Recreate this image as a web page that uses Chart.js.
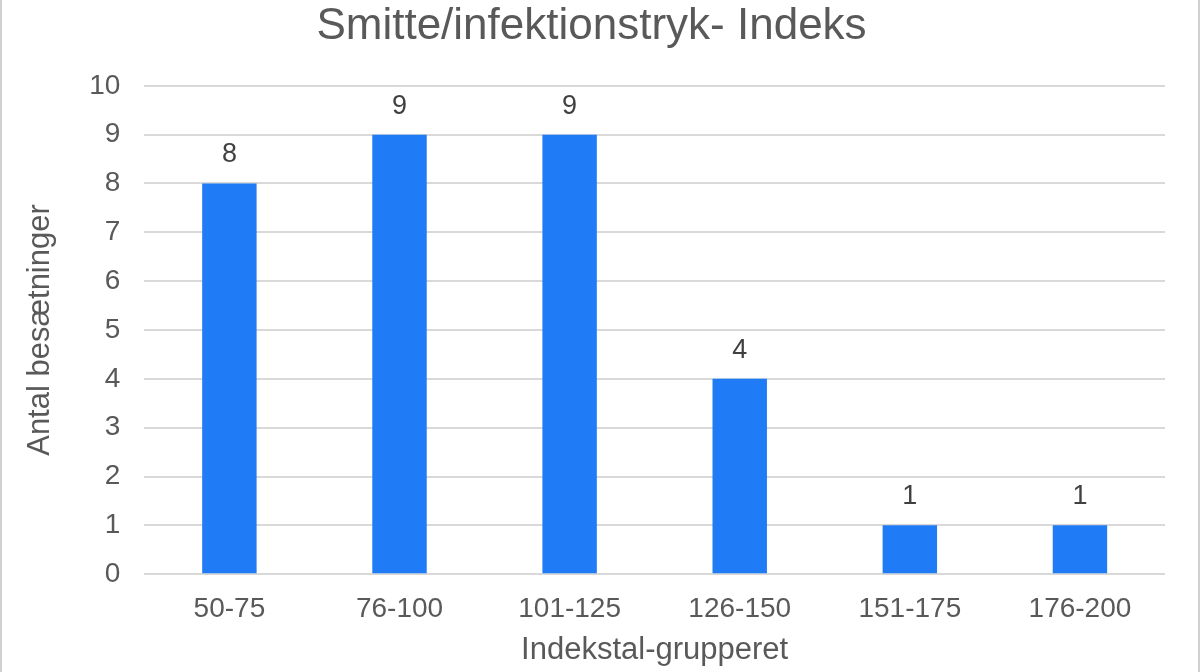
<!DOCTYPE html>
<html>
<head>
<meta charset="utf-8">
<script src="https://cdn.jsdelivr.net/npm/chart.js@4"></script>
<style>
html,body{margin:0;padding:0;background:#fff;}
#wrap{position:relative;width:1200px;height:672px;box-sizing:border-box;border-left:2px solid #d0d0d0;border-right:2px solid #d0d0d0;}
canvas{display:block;}
</style>
</head>
<body>
<div id="wrap"><canvas id="c"></canvas></div>
<script>
const categories = ['50-75','76-100','101-125','126-150','151-175','176-200'];
const values = [8, 9, 9, 4, 1, 1];
const yTicks = [0,1,2,3,4,5,6,7,8,9,10];

const FONT = "'Liberation Sans', Arial, sans-serif";

const labelPlugin = {
  id: 'barLabels',
  afterDatasetsDraw(chart) {
    const ctx = chart.ctx;
    const meta = chart.getDatasetMeta(0);
    ctx.save();
    ctx.font = '27px ' + FONT;
    ctx.fillStyle = '#404040';
    ctx.textAlign = 'center';
    ctx.textBaseline = 'alphabetic';
    meta.data.forEach((bar, i) => {
      ctx.fillText(String(chart.data.datasets[0].data[i]), bar.x, bar.y - 21);
    });
    ctx.restore();
  }
};

new Chart(document.getElementById('c'), {
  type: 'bar',
  data: {
    labels: categories,
    datasets: [{
      data: values,
      backgroundColor: '#1f7bf6',
      barPercentage: 0.64,
      categoryPercentage: 0.5
    }]
  },
  options: {
    responsive: true,
    maintainAspectRatio: false,
    animation: false,
    layout: { padding: { left: 16, right: 33, top: 0, bottom: 3 } },
    plugins: {
      legend: { display: false },
      tooltip: { enabled: false },
      title: {
        display: true,
        text: 'Smitte/infektionstryk- Indeks',
        color: '#595959',
        font: { family: FONT, size: 44, weight: 'normal' },
        padding: { top: 0, bottom: 33 }
      }
    },
    scales: {
      x: {
        grid: { display: false },
        border: { display: false },
        ticks: { color: '#595959', font: { family: FONT, size: 28 }, padding: 10 },
        title: { display: true, text: 'Indekstal-grupperet', color: '#595959', font: { family: FONT, size: 31 }, padding: { top: -4, bottom: 0 } }
      },
      y: {
        min: 0, max: 10,
        afterBuildTicks(axis) { axis.ticks = yTicks.map(v => ({ value: v })); },
        grid: { color: '#d9d9d9', lineWidth: 2, drawTicks: false },
        border: { display: false },
        ticks: { color: '#595959', font: { family: FONT, size: 28 }, padding: 24 },
        title: { display: true, text: 'Antal besætninger', color: '#595959', font: { family: FONT, size: 31 }, padding: { bottom: 6 } }
      }
    }
  },
  plugins: [labelPlugin]
});
</script>
</body>
</html>
